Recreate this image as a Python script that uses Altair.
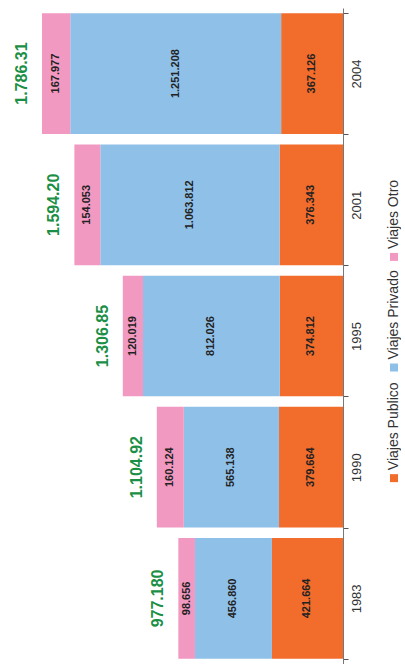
import altair as alt
import pandas as pd

years = ["1983", "1990", "1995", "2001", "2004"]
publico = [421.664, 379.664, 374.812, 376.343, 367.126]
privado = [456.860, 565.138, 812.026, 1063.812, 1251.208]
otro = [98.656, 160.124, 120.019, 154.053, 167.977]
publico_lbl = ["421.664", "379.664", "374.812", "376.343", "367.126"]
privado_lbl = ["456.860", "565.138", "812.026", "1.063.812", "1.251.208"]
otro_lbl = ["98.656", "160.124", "120.019", "154.053", "167.977"]
total_lbl = ["977.180", "1.104.92", "1.306.85", "1.594.20", "1.786.31"]
series = ["Viajes Publico", "Viajes Privado", "Viajes Otro"]
legend_order = [0, 1, 2]
colors = ["#f26c2c", "#8fc0e8", "#f299c1"]

rows = []
for i, yr in enumerate(years):
    start = 0.0
    for s, vals, lbls in zip(series, [publico, privado, otro],
                             [publico_lbl, privado_lbl, otro_lbl]):
        v = vals[i]
        rows.append({"year": yr, "serie": s, "start": start, "end": start + v,
                     "mid": start + v / 2, "label": lbls[i]})
        start += v
seg = pd.DataFrame(rows)
tot = pd.DataFrame({"year": years,
                    "total": [a + b + c for a, b, c in zip(publico, privado, otro)],
                    "label": total_lbl})

FONT = "Liberation Sans"
ysc = alt.Scale(domain=years[::-1], paddingInner=0.08, paddingOuter=0.04)
xsc = alt.Scale(domain=[0, 2000], reverse=True)
color = alt.Color("serie:N", scale=alt.Scale(domain=series, range=colors), legend=None)

yaxis = alt.Axis(orient="right", title=None, labelAngle=270, labelAlign="center",
                 labelBaseline="top", labelFontSize=13, labelFont=FONT,
                 labelColor="#333333", domainColor="#777777", tickColor="#555555",
                 tickSize=5, tickBand="extent", labelPadding=2, grid=False)

bars = alt.Chart(seg).mark_bar().encode(
    y=alt.Y("year:N", scale=ysc, axis=yaxis),
    x=alt.X("start:Q", scale=xsc, axis=None),
    x2="end:Q",
    color=color,
)
seg_txt = alt.Chart(seg).mark_text(angle=270, fontSize=11, fontWeight="bold",
                                   color="#222222", font=FONT,
                                   align="center", baseline="middle").encode(
    y=alt.Y("year:N", scale=ysc),
    x=alt.X("mid:Q", scale=xsc),
    text="label:N",
)
tot_txt = alt.Chart(tot).mark_text(angle=270, fontSize=16, fontWeight="bold",
                                   color="#1b8f45", font=FONT, dy=-20,
                                   align="center", baseline="middle").encode(
    y=alt.Y("year:N", scale=ysc),
    x=alt.X("total:Q", scale=xsc),
    text="label:N",
)
main = (bars + seg_txt + tot_txt).properties(width=337, height=656)

leg = pd.DataFrame({"serie": series, "pos": legend_order})
lsc = alt.Scale(domain=[-1.68, 4.25], nice=False, zero=False)
leg_sq = alt.Chart(leg).mark_square(size=64, opacity=1).encode(
    y=alt.Y("pos:Q", scale=lsc, axis=None),
    x=alt.value(17),
    color=color,
)
leg_tx = alt.Chart(leg).mark_text(angle=270, align="left", baseline="middle", dx=8,
                                  fontSize=14, color="#333333", font=FONT).encode(
    y=alt.Y("pos:Q", scale=lsc, axis=None),
    x=alt.value(17),
    text="serie:N",
)
legend = (leg_sq + leg_tx).properties(width=24, height=656)

chart = alt.hconcat(main, legend, spacing=14).properties(
    padding={"left": 6, "top": 7, "right": 0, "bottom": 1},
    background="white",
).configure_view(stroke=None)

chart.save("out.html", embed_options={"renderer": "svg", "actions": False})
